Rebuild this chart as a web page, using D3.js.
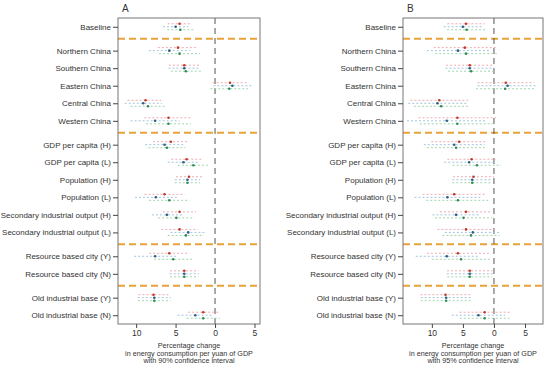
<!DOCTYPE html>
<html>
<head>
<meta charset="utf-8">
<script src="https://cdn.jsdelivr.net/npm/d3@7"></script>
<style>
  body { margin: 0; background: #fff; }
  svg { display: block; font-family: "Liberation Sans", Arial, sans-serif; }
</style>
</head>
<body>
<svg width="550" height="369"></svg>
<script>
// rows, top to bottom, and the block each one sits in
var rows = ['Baseline', 'Northern China', 'Southern China', 'Eastern China', 'Central China', 'Western China',
  'GDP per capita (H)', 'GDP per capita (L)', 'Population (H)', 'Population (L)',
  'Secondary industrial output (H)', 'Secondary industrial output (L)',
  'Resource based city (Y)', 'Resource based city (N)', 'Old industrial base (Y)', 'Old industrial base (N)'];
var groups = [0, 1, 1, 1, 1, 1, 2, 2, 2, 2, 2, 2, 3, 3, 4, 4];

// point estimates (reduction in %, drawn leftwards), three model variants
var estRed   = [4.5, 4.7, 3.9, -1.9, 8.8, 5.9, 5.6, 3.6, 3.3, 6.4, 4.5, 4.5, 5.8, 3.9, 7.8, 1.5];
var estBlue  = [5.0, 5.8, 3.9, -2.2, 9.1, 7.6, 6.4, 4.0, 3.5, 7.5, 6.1, 3.4, 7.6, 3.9, 7.7, 2.5];
var estGreen = [4.4, 4.5, 3.7, -1.8, 8.5, 5.9, 6.1, 2.75, 3.5, 5.8, 4.9, 3.7, 5.3, 3.9, 7.7, 1.5];

// half widths of the 90% intervals (panel A)
var hw90Red   = [1.5, 2.55, 1.95, 2.2, 2.3, 3.05, 2.25, 1.95, 1.65, 2.55, 2.1, 2.3, 2.55, 1.8, 1.9, 1.9];
var hw90Blue  = [1.6, 2.6, 2.0, 2.4, 2.35, 3.1, 2.45, 2.0, 1.6, 2.65, 1.9, 2.25, 2.65, 1.85, 2.1, 2.25];
var hw90Green = [1.65, 2.6, 1.9, 2.4, 2.2, 2.85, 2.35, 1.95, 1.6, 2.55, 2.3, 2.3, 2.4, 1.8, 2.05, 2.1];

// half widths of the 95% intervals (panel B)
var hw95Red   = [3.0, 5.0, 3.8, 4.55, 4.65, 6.25, 4.5, 3.9, 3.3, 5.1, 4.2, 4.6, 5.0, 3.65, 4.05, 4.05];
var hw95Blue  = [3.1, 5.0, 3.9, 4.85, 4.7, 6.4, 4.9, 4.0, 3.2, 5.3, 3.8, 4.5, 5.0, 3.7, 4.1, 4.3];
var hw95Green = [3.15, 4.95, 3.7, 4.7, 4.4, 6.05, 4.7, 3.9, 3.2, 5.1, 4.6, 4.6, 4.7, 3.6, 4.1, 4.0];

var xTicks = [10, 5, 0, -5];

var series = [
  { est: estRed,   hw90: hw90Red,   hw95: hw95Red,   dot: '#c0392b', bar: '#eeabb2', dy: -3 },
  { est: estBlue,  hw90: hw90Blue,  hw95: hw95Blue,  dot: '#2d5f80', bar: '#a3c4dc', dy: 0 },
  { est: estGreen, hw90: hw90Green, hw95: hw95Green, dot: '#2e8b57', bar: '#a0d6b0', dy: 3 }
];

var svg = d3.select('svg');
var gap = 0.36;
var pos = rows.map(function (r, i) { return i + groups[i] * gap; });

var panels = [
  { name: 'A', left: 118, right: 260, domain: [12.3, -5.7], ci: 'hw90', pct: '90%' },
  { name: 'B', left: 403, right: 543, domain: [14.65, -7.9], ci: 'hw95', pct: '95%' }
];
var plotTop = 18, plotBottom = 324;

var y = d3.scaleLinear().domain([-0.5, pos[pos.length - 1] + 0.5]).range([plotTop, plotBottom]);

panels.forEach(function (p) {
  var x = d3.scaleLinear().domain(p.domain).range([p.left, p.right]);
  var g = svg.append('g');

  // group separators
  for (var i = 1; i < rows.length; i++) {
    if (groups[i] !== groups[i - 1]) {
      var yy = y((pos[i] + pos[i - 1]) / 2);
      g.append('line')
        .attr('x1', p.left).attr('x2', p.right)
        .attr('y1', yy).attr('y2', yy)
        .attr('stroke', '#e8a23a').attr('stroke-width', 2)
        .attr('stroke-dasharray', '7,4');
    }
  }

  // zero line
  g.append('line')
    .attr('x1', x(0)).attr('x2', x(0))
    .attr('y1', plotTop).attr('y2', plotBottom)
    .attr('stroke', '#555').attr('stroke-width', 1)
    .attr('stroke-dasharray', '6,4');

  series.forEach(function (s) {
    g.selectAll(null).data(rows).enter().append('line')
      .attr('x1', function (d, i) { return x(s.est[i] + s[p.ci][i]); })
      .attr('x2', function (d, i) { return x(s.est[i] - s[p.ci][i]); })
      .attr('y1', function (d, i) { return y(pos[i]) + s.dy; })
      .attr('y2', function (d, i) { return y(pos[i]) + s.dy; })
      .attr('stroke', s.bar).attr('stroke-width', 1)
      .attr('stroke-dasharray', '2,2');
    g.selectAll(null).data(rows).enter().append('circle')
      .attr('cx', function (d, i) { return x(s.est[i]); })
      .attr('cy', function (d, i) { return y(pos[i]) + s.dy; })
      .attr('r', 1.3)
      .attr('fill', s.dot);
  });

  // frame
  g.append('rect')
    .attr('x', p.left).attr('y', plotTop)
    .attr('width', p.right - p.left).attr('height', plotBottom - plotTop)
    .attr('fill', 'none').attr('stroke', '#777').attr('stroke-width', 1);

  // y axis labels
  var ya = g.append('g').attr('transform', 'translate(' + p.left + ',0)')
    .call(d3.axisLeft(y).tickValues(pos).tickSize(5).tickPadding(2)
      .tickFormat(function (d, i) { return rows[i]; }));
  ya.select('.domain').remove();
  ya.selectAll('line').attr('stroke', '#444');
  ya.selectAll('text').attr('font-size', 8).attr('fill', '#333').attr('font-family', null);

  // x axis
  var xa = g.append('g').attr('transform', 'translate(0,' + plotBottom + ')')
    .call(d3.axisBottom(x).tickValues(xTicks).tickSize(4).tickPadding(2)
      .tickFormat(function (d) { return Math.abs(d); }));
  xa.select('.domain').remove();
  xa.selectAll('line').attr('stroke', '#444');
  xa.selectAll('text').attr('font-size', 8.5).attr('fill', '#333').attr('font-family', null);

  var cx = (p.left + p.right) / 2;
  var titleLines = ['Percentage change', 'in energy consumption per yuan of GDP', 'with ' + p.pct + ' confidence interval'];
  g.selectAll(null).data(titleLines).enter().append('text')
    .attr('x', cx)
    .attr('y', function (d, i) { return 348 + i * 7.6; })
    .attr('text-anchor', 'middle')
    .attr('font-size', 7.2).attr('fill', '#333')
    .text(function (d) { return d; });

  g.append('text')
    .attr('x', p.left + 4).attr('y', 12)
    .attr('font-size', 10).attr('fill', '#333')
    .text(p.name);
});
</script>
</body>
</html>
